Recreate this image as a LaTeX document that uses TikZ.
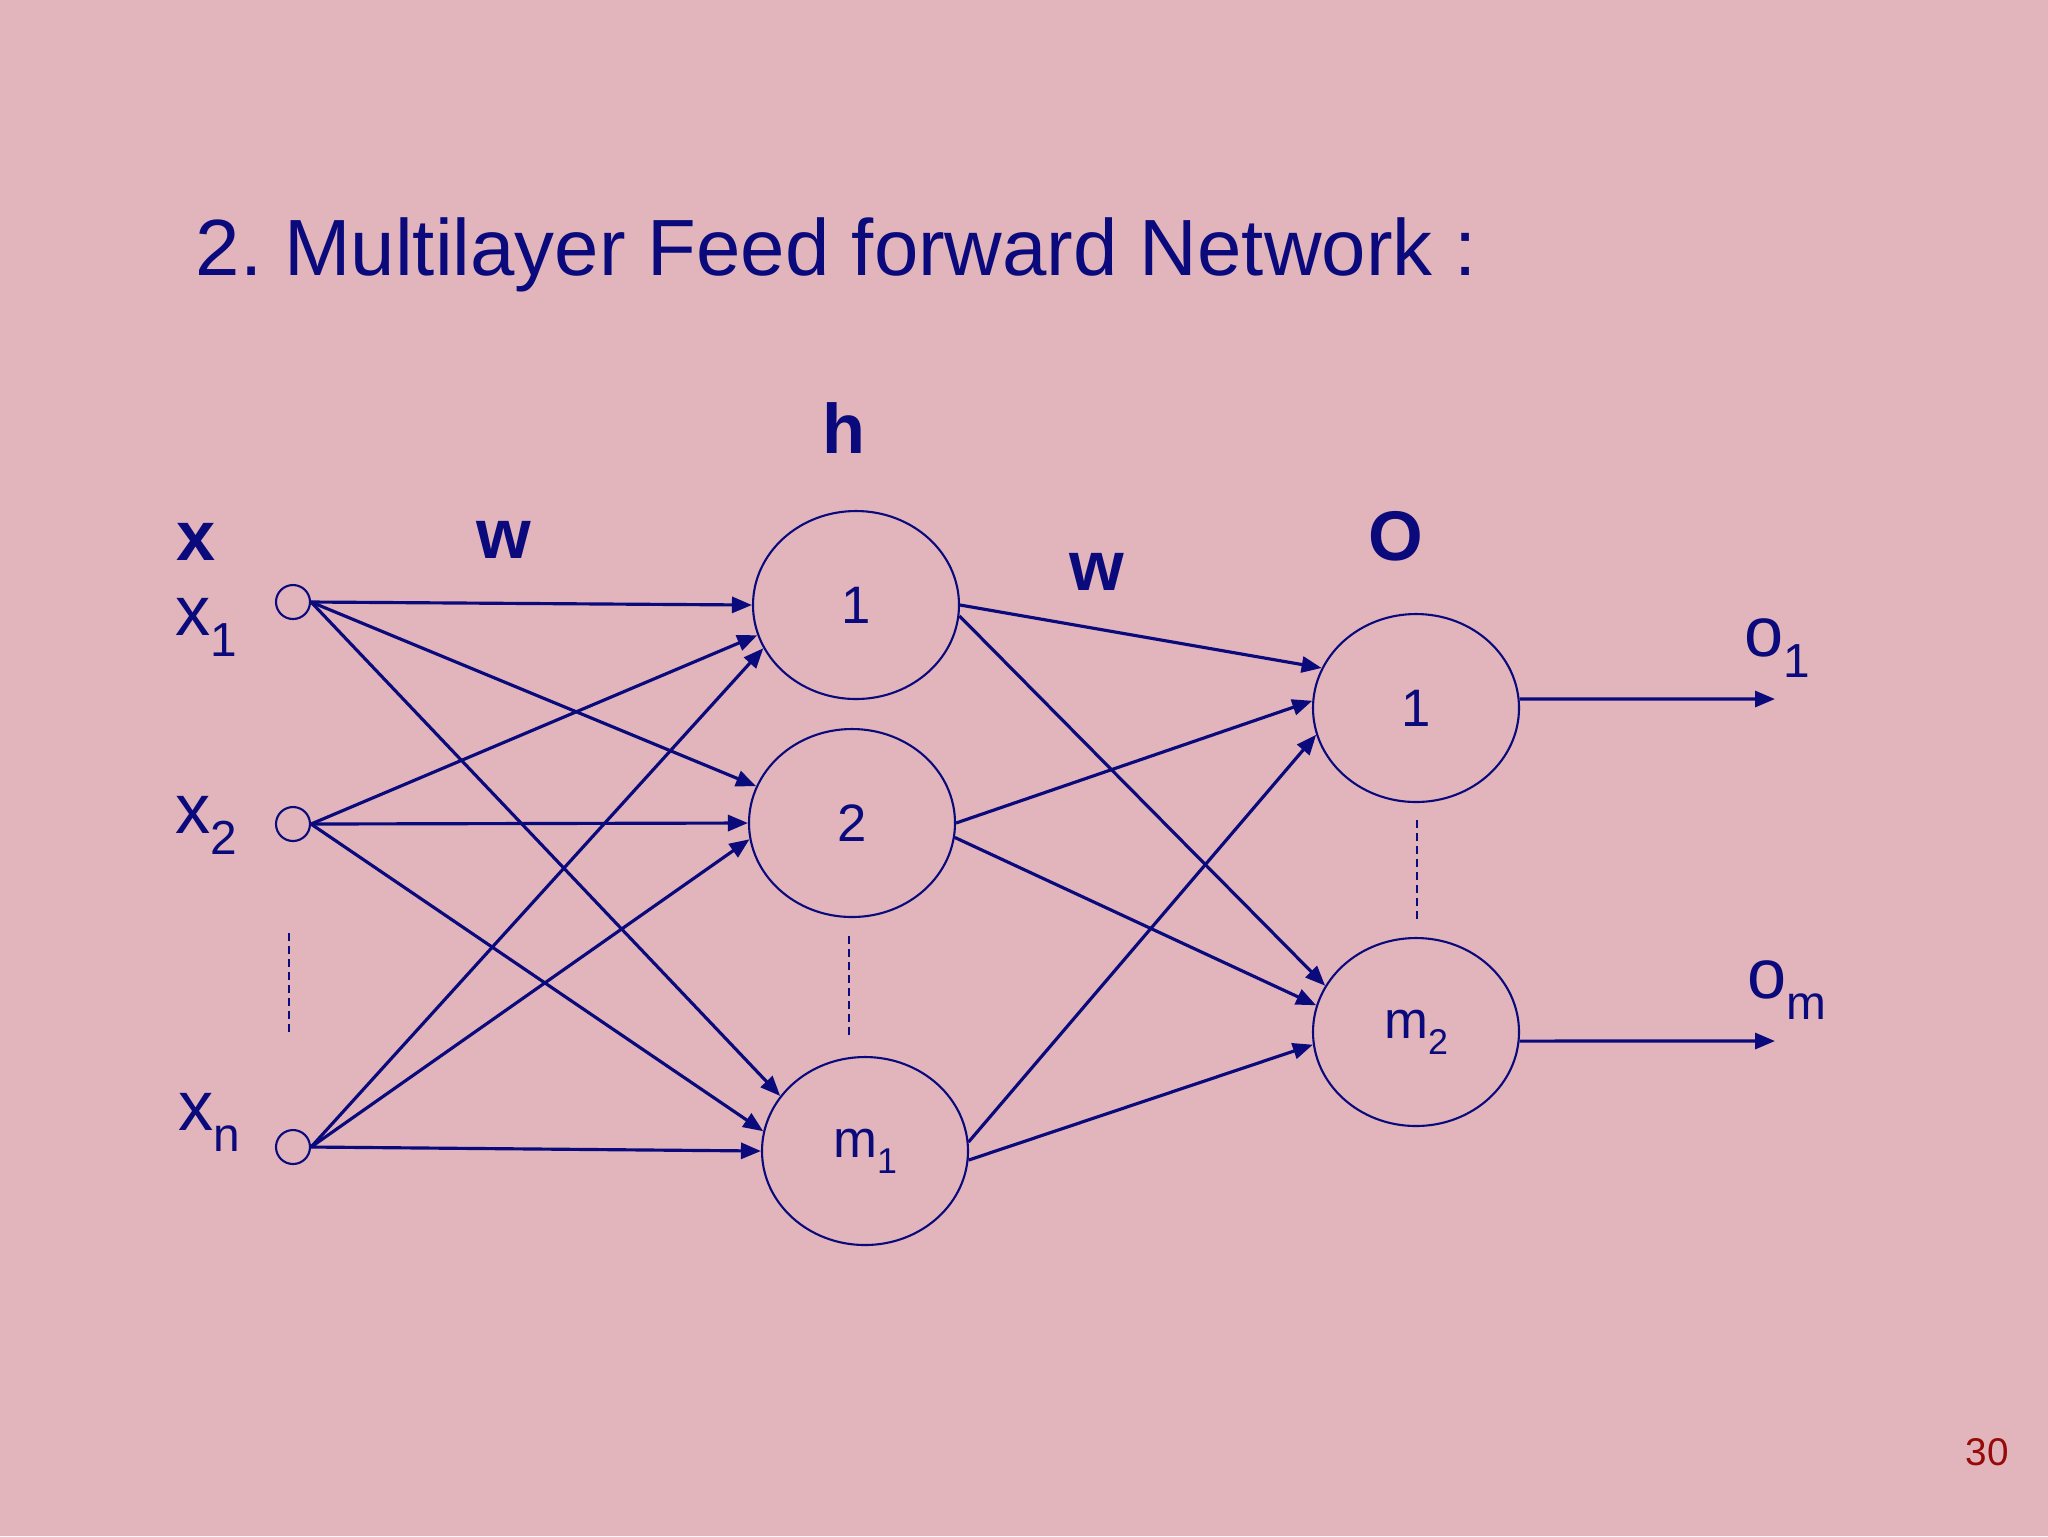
\documentclass[tikz,border=0pt]{standalone}
\usepackage{fontspec}
\setmainfont{Liberation Sans}
\usepackage{graphicx}
\usepackage{tikz}
\usetikzlibrary{positioning,arrows.meta,shapes.geometric}
\definecolor{slidepink}{RGB}{226,180,187}
\definecolor{inkblue}{RGB}{10,10,125}
\definecolor{pagered}{RGB}{150,10,10}
\newcommand{\idx}[1]{\raisebox{-0.3em}{\scalebox{0.68}{#1}}}
\frenchspacing

\begin{document}
\begin{tikzpicture}[x=0.1mm,y=-0.1mm,
      >={Triangle[length=2mm,width=1.6mm]},
      every node/.style={text=inkblue,inner sep=0pt},
      unit/.style={draw=inkblue,line width=0.6pt,ellipse,minimum width=20.6mm,minimum height=18.8mm,font=\fontsize{15}{18}\selectfont},
      inp/.style={draw=inkblue,line width=0.6pt,circle,minimum size=3.4mm},
      lbl/.style={font=\fontsize{20}{24}\selectfont,anchor=base west},
      head/.style={font=\fontsize{20}{24}\selectfont\bfseries,anchor=base},
      link/.style={->,draw=inkblue,line width=0.9pt},
      gap/.style={draw=inkblue,line width=0.5pt,dash pattern=on 0.8mm off 0.5mm}]
  \fill[slidepink] (0,0) rectangle (2048,1536);
  \node[anchor=base west,font=\fontsize{22.7}{27}\selectfont] (title) at (195,275) {2. Multilayer Feed forward Network :};
  \node[anchor=base west,font=\fontsize{11}{13}\selectfont,text=pagered] (page) at (1965,1465) {30};

  \node[head] (hx) at (196,560) {x};
  \node[head] (hw1) at (504,558) {w};
  \node[head] (hh) at (844,453) {h};
  \node[head] (hw2) at (1097,590) {w};
  \node[head] (ho) at (1396,560) {O};

  \node[inp] (x1) at (293,602) {};
  \node[inp] (x2) at (293,824) {};
  \node[inp] (xn) at (293,1147) {};
  \node[lbl] (lx1) at (175,635) {x\idx{1}};
  \node[lbl] (lx2) at (175,833) {x\idx{2}};
  \node[lbl] (lxn) at (178,1130) {x\idx{n}};

  \node[unit] (h1) at (856,605) {1};
  \node[unit] (h2) at (852,823) {2};
  \node[unit] (hm) at (865,1151) {m\idx{1}};
  \node[unit] (o1) at (1416,708) {1};
  \node[unit] (om) at (1416,1032) {m\idx{2}};

  \node[lbl] (lo1) at (1744,656) {o\idx{1}};
  \node[lbl] (lom) at (1747,998) {o\idx{m}};
  \coordinate (y1) at (1775,699);
  \coordinate (ym) at (1775,1041);

  \draw[gap] (289,933) -- (289,1036);
  \draw[gap] (849,936) -- (849,1038);
  \draw[gap] (1417,820) -- (1417,921);

  \foreach \s/\t in {x1/h1.west,x1/h2.159,x1/hm.147,
                     x2/h1.197,x2/h2.west,x2/hm.169,
                     xn/h1.205,xn/h2.189,xn/hm.west}
    \draw[link] (\s.east) -- (\t);
  \foreach \s/\t in {h1.east/o1.157,h1.354/om.153,
                     h2.east/o1.176,h2.352/om.165,
                     hm.5/o1.195,hm.355/om.187}
    \draw[link] (\s) -- (\t);
  \draw[link] (o1.5) -- (y1);
  \draw[link] (om.-5) -- (ym);
\end{tikzpicture}
\end{document}
